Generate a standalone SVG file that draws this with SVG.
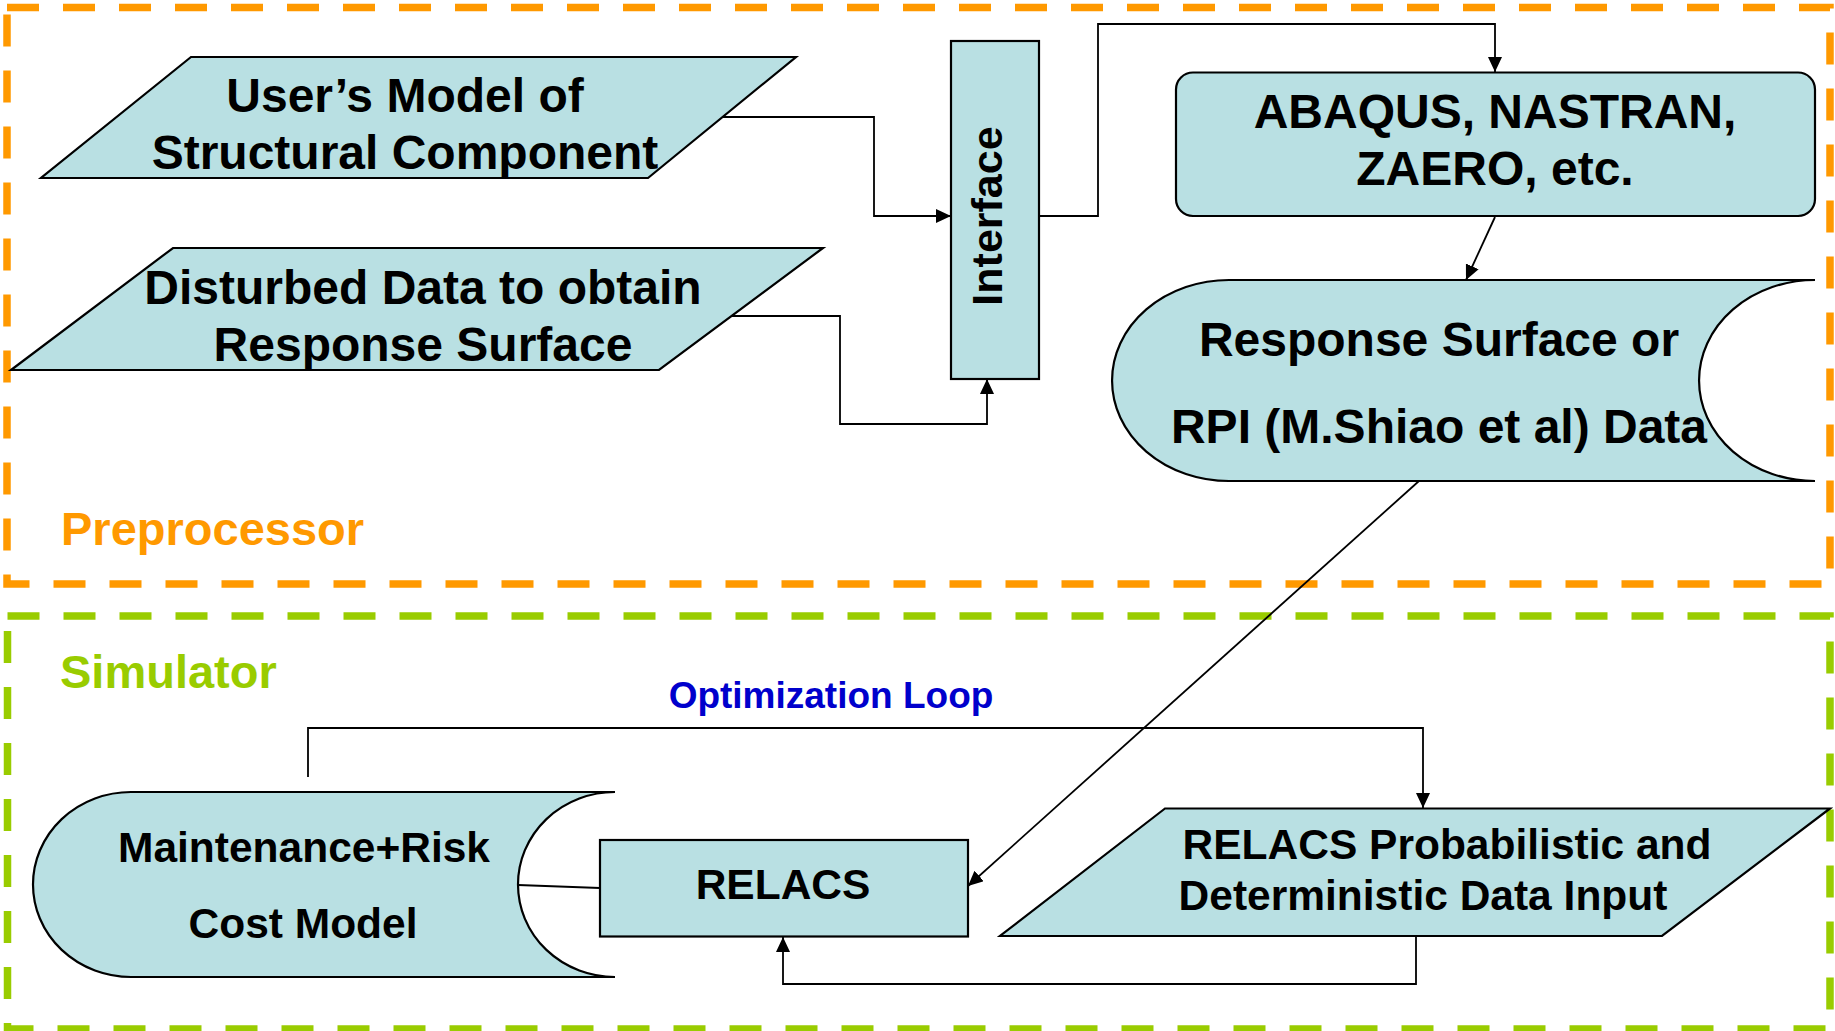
<svg xmlns="http://www.w3.org/2000/svg" width="1835" height="1031" viewBox="0 0 1835 1031">
<style>
.shape{fill:#B9E0E3;stroke:#000;stroke-width:2.2}
.t{font-family:"Liberation Sans",Arial,sans-serif;font-weight:bold;font-size:48px;fill:#000;text-anchor:middle}
.s{font-family:"Liberation Sans",Arial,sans-serif;font-weight:bold;font-size:42.5px;fill:#000;text-anchor:middle}
.conn{fill:none;stroke:#000;stroke-width:1.8}
.lbl{font-family:"Liberation Sans",Arial,sans-serif;font-weight:bold;font-size:47px}
</style>
<defs>
<marker id="arr" markerUnits="userSpaceOnUse" markerWidth="16" markerHeight="14" refX="15" refY="7" orient="auto">
<path d="M0,0 L15,7 L0,14 Z" fill="#000"/>
</marker>
</defs>
<rect width="1835" height="1031" fill="#fff"/>
<g id="preprocessor-frame">
<rect x="7" y="7.5" width="1823" height="576.5" fill="none" stroke="#FF9900" stroke-width="7.5" stroke-dasharray="32 24"/>
<text class="lbl" x="61" y="545" fill="#FF9900">Preprocessor</text>
</g>
<g id="simulator-frame">
<rect x="7.5" y="616" width="1822.5" height="413" fill="none" stroke="#99CC00" stroke-width="7.5" stroke-dasharray="32 24"/>
<text class="lbl" x="60" y="688" fill="#99CC00">Simulator</text>
</g>
<g id="connectors">
<path class="conn" d="M722,117 H874 V216 H951" marker-end="url(#arr)"/>
<path class="conn" d="M731,316 H840 V424 H987 V379" marker-end="url(#arr)"/>
<path class="conn" d="M1039,216 H1098 V24 H1495 V72" marker-end="url(#arr)"/>
<path class="conn" d="M1495,217 L1466,280" marker-end="url(#arr)"/>
<path class="conn" d="M1419,481 L968,886" marker-end="url(#arr)"/>
<path class="conn" d="M308,777 V728 H1423 V808" marker-end="url(#arr)"/>
<path class="conn" d="M1416,936 V984 H783 V937" marker-end="url(#arr)"/>
<path class="conn" d="M518,885 L600,888"/>
<text x="831" y="708" font-family="Liberation Sans, Arial, sans-serif" font-weight="bold" font-size="37" fill="#0000CC" text-anchor="middle">Optimization Loop</text>
</g>
<g id="users-model">
<polygon class="shape" points="191,57 796,57 648,178 41,178"/>
<text class="t" x="405" y="112">User’s Model of</text>
<text class="t" x="405" y="169">Structural Component</text>
</g>
<g id="disturbed-data">
<polygon class="shape" points="173,248 823,248 659,370 11,370"/>
<text class="t" x="423" y="304">Disturbed Data to obtain</text>
<text class="t" x="423" y="361">Response Surface</text>
</g>
<g id="interface">
<rect class="shape" x="951" y="41" width="88" height="338"/>
<text transform="translate(1002,216) rotate(-90)" x="0" y="0" font-family="Liberation Sans, Arial, sans-serif" font-weight="bold" font-size="43" text-anchor="middle">Interface</text>
</g>
<g id="abaqus">
<rect class="shape" x="1176" y="72.5" width="639" height="143.5" rx="17" ry="17"/>
<text class="t" x="1495" y="128">ABAQUS, NASTRAN,</text>
<text class="t" x="1495" y="185">ZAERO, etc.</text>
</g>
<g id="response-surface">
<path class="shape" d="M1229,280 L1815,280 A116 100.5 0 0 0 1815,481 L1229,481 A117 100.5 0 0 1 1229,280 Z"/>
<text class="t" x="1439" y="356">Response Surface or</text>
<text class="t" x="1439" y="443">RPI (M.Shiao et al) Data</text>
</g>
<g id="maintenance-risk">
<path class="shape" d="M131,792 L615,792 A97 92.5 0 0 0 615,977 L131,977 A98 92.5 0 0 1 131,792 Z"/>
<text class="s" x="304" y="862">Maintenance+Risk</text>
<text class="s" x="303" y="938">Cost Model</text>
</g>
<g id="relacs">
<rect class="shape" x="600" y="840" width="368" height="96.5"/>
<text class="s" x="783" y="899">RELACS</text>
</g>
<g id="relacs-input">
<polygon class="shape" points="1165,808.5 1830,808.5 1662,936 1000,936"/>
<text class="s" x="1447" y="859">RELACS Probabilistic and</text>
<text class="s" x="1423" y="910">Deterministic Data Input</text>
</g>
</svg>
